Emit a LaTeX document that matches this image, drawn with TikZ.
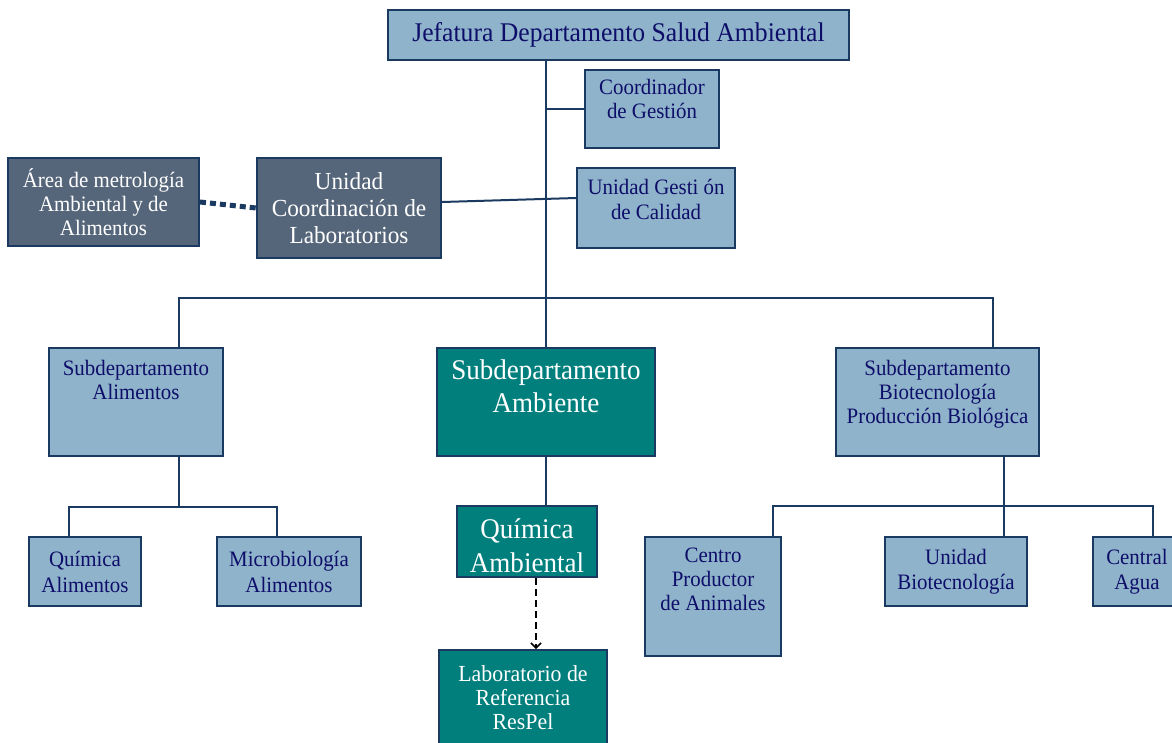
\documentclass[tikz,border=0pt]{standalone}
\usepackage{fontspec}
\setmainfont{Liberation Serif}[FakeStretch=0.95]
\usepackage{tikz}
\usetikzlibrary{positioning,arrows.meta}

\definecolor{navyline}{HTML}{1B3A62}
\definecolor{navytext}{HTML}{0E0E6A}
\definecolor{paleblue}{HTML}{8FB3CA}
\definecolor{slate}{HTML}{56667A}
\definecolor{tealbox}{HTML}{007F7D}

\tikzset{
  lbox/.style={draw=navyline, fill=paleblue, line width=2pt, inner sep=0pt},
  dbox/.style={lbox, fill=slate},
  tbox/.style={lbox, fill=tealbox},
  ltxt/.style={text=navytext, align=center, inner sep=0pt, font=\fontsize{22}{24}\selectfont},
  wtxt/.style={ltxt, text=white},
  conn/.style={draw=navyline, line width=2pt}
}

\begin{document}
\begin{tikzpicture}[x=1pt,y=1pt]
\useasboundingbox (0,0) rectangle (1172,-742);

\node[lbox, minimum width=461, minimum height=50, text=navytext, font=\fontsize{27}{30}\selectfont]
  (jef) at (618.5,-35) {Jefatura Departamento Salud Ambiental};
\node[lbox, minimum width=134, minimum height=78] (cg) at (652,-109) {};
\node[lbox, minimum width=158, minimum height=80] (cal) at (656,-208) {};
\node[dbox, minimum width=191, minimum height=88, wtxt] (ar) at (103.5,-202) {Área de metrología\\Ambiental y de\\Alimentos};
\node[dbox, minimum width=184, minimum height=100, wtxt, font=\fontsize{24.5}{27}\selectfont]
  (uc) at (349,-208) {Unidad\\Coordinación de\\Laboratorios};

\node[lbox, minimum width=174, minimum height=108] (sal) at (136,-402) {};
\node[tbox, minimum width=218, minimum height=108] (sa) at (546,-402) {};
\node[lbox, minimum width=203, minimum height=108] (sb) at (937.5,-402) {};

\node[lbox, minimum width=112, minimum height=69, ltxt, font=\fontsize{22}{26}\selectfont] (qa) at (85,-571.5) {Química\\Alimentos};
\node[lbox, minimum width=144, minimum height=69, ltxt, font=\fontsize{22}{26}\selectfont] (mb) at (289,-571.5) {Microbiología\\Alimentos};
\node[tbox, minimum width=140, minimum height=71] (qam) at (527,-541.5) {};
\node[tbox, minimum width=168, minimum height=96, wtxt, font=\fontsize{23}{24}\selectfont]
  (lab) at (523,-698) {Laboratorio de\\Referencia\\ResPel};
\node[lbox, minimum width=136, minimum height=119] (cp) at (713,-596.5) {};
\node[lbox, minimum width=142, minimum height=69, ltxt, font=\fontsize{22}{25}\selectfont] (ub) at (956,-571.5) {Unidad\\Biotecnología};
\node[lbox, minimum width=88, minimum height=69, ltxt, font=\fontsize{22}{25}\selectfont] (ca) at (1137,-571.5) {Central\\Agua};

\node[ltxt, below=10pt of cg.north] (cgT) {Coordinador\\de Gestión};
\node[ltxt, below=12pt of cal.north, font=\fontsize{22}{25}\selectfont] (calT) {Unidad Gesti ón\\de Calidad};
\node[ltxt, below=13pt of sal.north] (salT) {Subdepartamento\\Alimentos};
\node[wtxt, below=13pt of sa.north, font=\fontsize{28.5}{33}\selectfont] (saT) {Subdepartamento\\Ambiente};
\node[ltxt, below=13pt of sb.north] (sbT) {Subdepartamento\\Biotecnología\\Producción Biológica};
\node[ltxt, below=12pt of cp.north] (cpT) {Centro\\Productor\\de Animales};
\node[wtxt, below=13pt of qam.north, font=\fontsize{28.5}{34}\selectfont] (qamT) {Química\\Ambiental};

\coordinate (busL) at (179,-298);
\coordinate (busR) at (993,-298);
\coordinate (aL) at (69,-507);
\coordinate (aR) at (277,-507);
\coordinate (bL) at (773,-506);
\coordinate (bM) at (1004,-506);
\coordinate (bR) at (1153,-506);
\coordinate (dx) at (536,0);

\draw[conn] (jef.south -| sa.north) -- (sa.north);
\draw[conn] (cg.west) -- (cg.west -| sa.north);
\draw[conn] ([yshift=6pt]uc.east) -- ([yshift=10pt]cal.west);
\draw[navyline, line width=5pt, dash pattern=on 6pt off 4pt] (ar.east) -- (uc.west);
\draw[conn] (busL |- sal.north) -- (busL) -- (busR) -- (busR |- sb.north);
\draw[conn] (busL |- sal.south) -- (busL |- aL);
\draw[conn] (aL |- qa.north) -- (aL) -- (aR) -- (aR |- mb.north);
\draw[conn] (sa.south) -- (sa.south |- qam.north);
\draw[black, line width=1.5pt, dash pattern=on 7pt off 4pt, -{Straight Barb[length=5pt,width=10pt]}] (qam.south -| dx) -- (lab.north -| dx);
\draw[conn] (bM |- sb.south) -- (bM |- ub.north);
\draw[conn] (bL |- cp.north) -- (bL) -- (bR) -- (bR |- ca.north);
\end{tikzpicture}
\end{document}
